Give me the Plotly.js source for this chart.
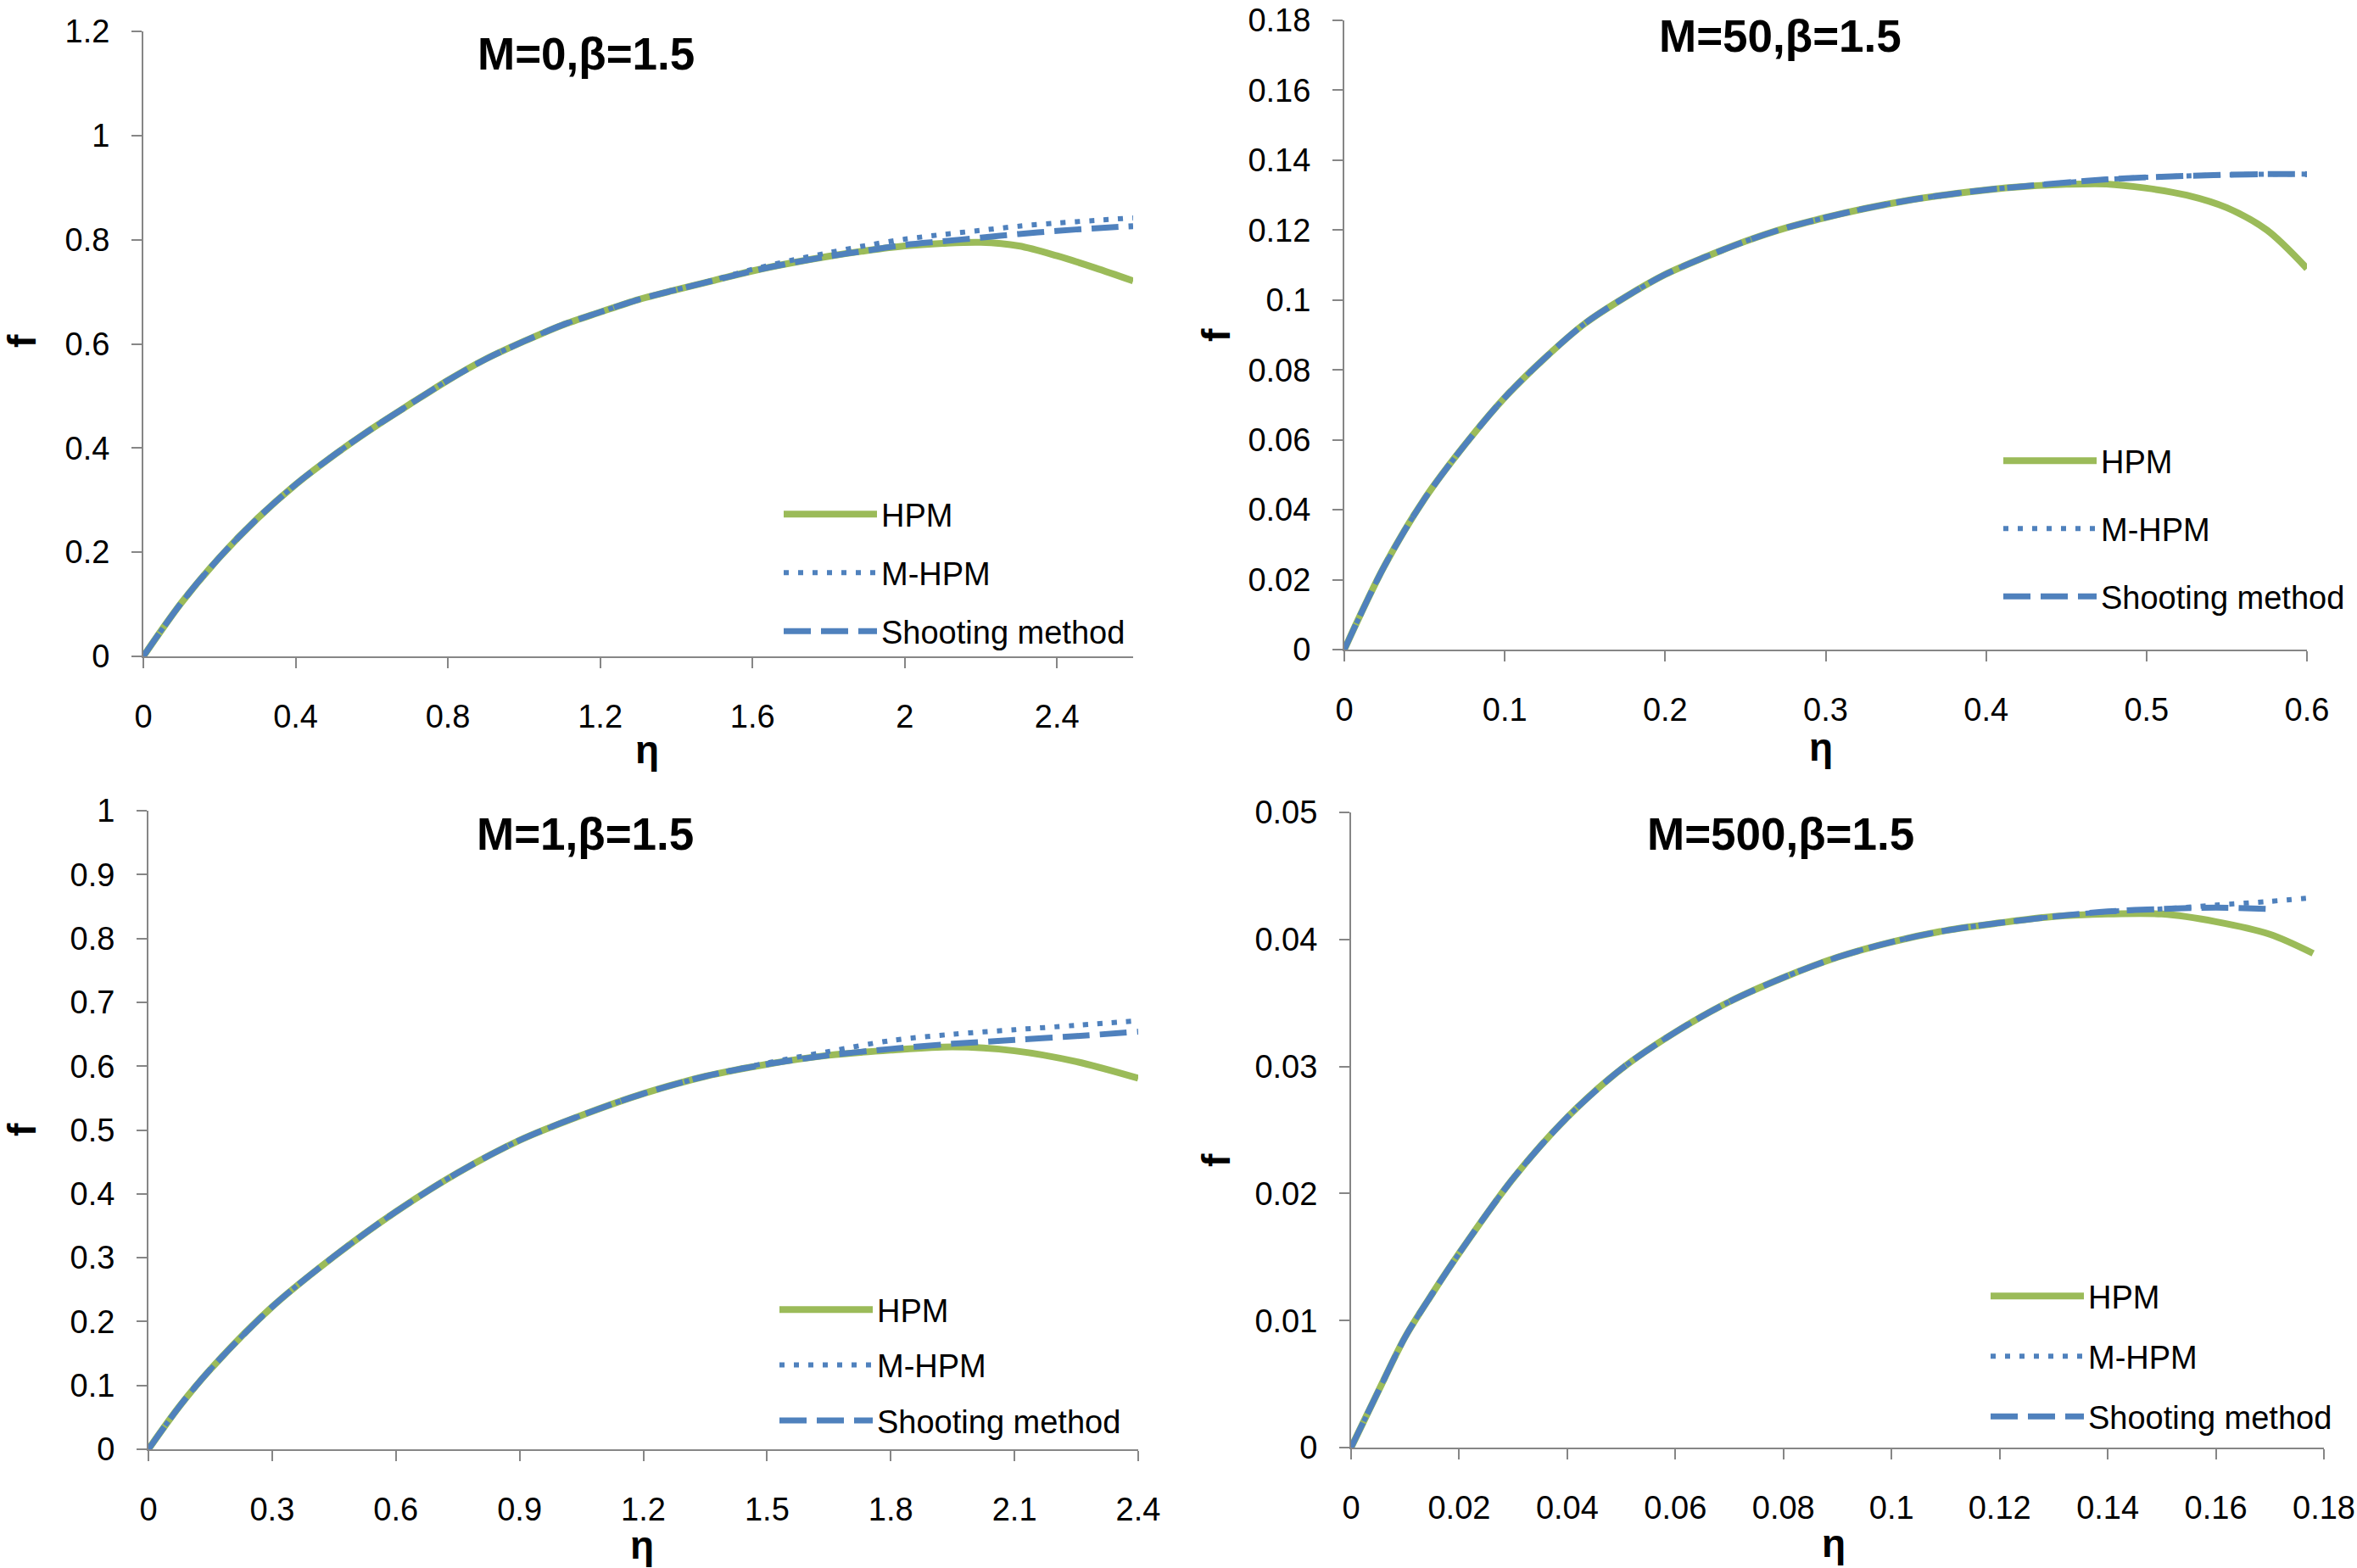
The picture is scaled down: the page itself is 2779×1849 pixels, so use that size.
<!DOCTYPE html>
<html>
<head>
<meta charset="utf-8">
<script src="https://cdn.plot.ly/plotly-3.0.1.min.js"></script>
<style>html,body{margin:0;padding:0;background:#fff;}#chart{width:2779px;height:1849px;}</style>
</head>
<body>
<div id="chart"></div>
<script>
// ---------- DATA ----------
// Panel M=0
const eta_M0 = [0,0.1,0.2,0.3,0.4,0.5,0.6,0.7,0.8,0.9,1.0,1.1,1.2,1.3,1.4,1.5,1.6,1.7,1.8,1.9,2.0,2.1,2.2,2.3,2.4,2.5,2.6];
const hpm_M0   = [0,0.103,0.190,0.265,0.330,0.386,0.437,0.484,0.530,0.571,0.605,0.636,0.661,0.685,0.704,0.722,0.740,0.755,0.768,0.779,0.788,0.793,0.795,0.788,0.769,0.746,0.721];
const mhpm_M0  = [0,0.103,0.190,0.265,0.330,0.386,0.437,0.484,0.530,0.571,0.605,0.636,0.661,0.685,0.704,0.723,0.743,0.760,0.775,0.789,0.801,0.810,0.818,0.826,0.832,0.837,0.842];
const shoot_M0 = [0,0.103,0.190,0.265,0.330,0.386,0.437,0.484,0.530,0.571,0.605,0.636,0.661,0.685,0.704,0.722,0.740,0.755,0.768,0.779,0.790,0.797,0.804,0.811,0.817,0.822,0.826];

// Panel M=50
const eta_M50 = [0,0.025,0.05,0.075,0.1,0.125,0.15,0.175,0.2,0.225,0.25,0.275,0.3,0.325,0.35,0.375,0.4,0.425,0.45,0.475,0.5,0.525,0.55,0.575,0.6];
const hpm_M50   = [0,0.0239,0.0431,0.0585,0.0721,0.0834,0.0933,0.1008,0.1073,0.1123,0.1168,0.1206,0.1236,0.1262,0.1284,0.1301,0.1315,0.1325,0.1331,0.1332,0.1320,0.1300,0.1264,0.1200,0.1090];
const mhpm_M50  = [0,0.0239,0.0431,0.0585,0.0721,0.0834,0.0933,0.1008,0.1073,0.1123,0.1168,0.1206,0.1236,0.1262,0.1284,0.1301,0.1315,0.1326,0.1336,0.1345,0.1351,0.1355,0.1358,0.1360,0.1360];
const shoot_M50 = [0,0.0239,0.0431,0.0585,0.0721,0.0834,0.0933,0.1008,0.1073,0.1123,0.1168,0.1206,0.1236,0.1262,0.1284,0.1301,0.1315,0.1326,0.1336,0.1345,0.1351,0.1355,0.1358,0.1360,0.1360];

// Panel M=1
const eta_M1 = [0,0.075,0.15,0.3,0.45,0.6,0.75,0.9,1.05,1.2,1.35,1.5,1.65,1.8,1.95,2.1,2.25,2.4];
const hpm_M1   = [0,0.067,0.125,0.223,0.302,0.372,0.433,0.484,0.523,0.557,0.584,0.603,0.617,0.625,0.630,0.624,0.607,0.581];
const mhpm_M1  = [0,0.067,0.125,0.223,0.302,0.372,0.433,0.484,0.523,0.557,0.584,0.605,0.623,0.640,0.650,0.657,0.664,0.671];
const shoot_M1 = [0,0.067,0.125,0.223,0.302,0.372,0.433,0.484,0.523,0.557,0.584,0.603,0.617,0.627,0.635,0.641,0.647,0.654];

// Panel M=500
const eta_M500 = [0,0.005,0.01,0.015,0.02,0.03,0.04,0.05,0.06,0.07,0.08,0.09,0.1,0.11,0.12,0.13,0.14,0.15,0.16,0.17,0.178];
const hpm_M500   = [0,0.0044,0.0087,0.0121,0.0153,0.0212,0.0260,0.0298,0.0327,0.0351,0.0370,0.0386,0.0398,0.0407,0.0413,0.0418,0.0420,0.0420,0.0414,0.0404,0.0389];
const mhpm_M500  = [0,0.0044,0.0087,0.0121,0.0153,0.0212,0.0260,0.0298,0.0327,0.0351,0.0370,0.0386,0.0398,0.0407,0.0413,0.0418,0.0422,0.0424,0.0427,0.0430,0.0433];
const eta_M500_shoot = [0,0.005,0.01,0.015,0.02,0.03,0.04,0.05,0.06,0.07,0.08,0.09,0.1,0.11,0.12,0.13,0.14,0.15,0.16,0.17];
const shoot_M500 = [0,0.0044,0.0087,0.0121,0.0153,0.0212,0.0260,0.0298,0.0327,0.0351,0.0370,0.0386,0.0398,0.0407,0.0413,0.0418,0.0422,0.0424,0.0425,0.0424];

const panelTitles = ['M=0,\u03b2=1.5','M=50,\u03b2=1.5','M=1,\u03b2=1.5','M=500,\u03b2=1.5'];
const seriesNames = ['HPM','M-HPM','Shooting method'];
const xTitle = '\u03b7';
const yTitle = 'f';

// ---------- STYLE ----------
const W = 2779, H = 1849;
const fx = v => v / W;
const fy = v => 1 - v / H;
const FONT = 'Liberation Sans, Arial, sans-serif';
const GREEN = '#9BBB59', BLUE = '#4F81BD', AXIS = '#868686';

const panels = [
  {xs:[eta_M0,eta_M0,eta_M0], ys:[hpm_M0,mhpm_M0,shoot_M0], xr:[0,2.6], xd:0.4, yr:[0,1.2000001], yd:0.2,
   dom:{x:[169,1336], y:[37,774]}, title:[691,63], ft:[26,402], et:[763,884], leg:{x:919, top:575, gap:16.6}},
  {xs:[eta_M50,eta_M50,eta_M50], ys:[hpm_M50,mhpm_M50,shoot_M50], xr:[0,0.6000001], xd:0.1, yr:[0,0.1800001], yd:0.02,
   dom:{x:[1585,2720], y:[24,766]}, title:[2099,42], ft:[1434,395], et:[2147,881], leg:{x:2357, top:512, gap:27.6}},
  {xs:[eta_M1,eta_M1,eta_M1], ys:[hpm_M1,mhpm_M1,shoot_M1], xr:[0,2.4000001], xd:0.3, yr:[0,1.0000001], yd:0.1,
   dom:{x:[175,1342], y:[956,1709]}, title:[690,983], ft:[26,1332], et:[757,1822], leg:{x:914, top:1513, gap:13}},
  {xs:[eta_M500,eta_M500,eta_M500_shoot], ys:[hpm_M500,mhpm_M500,shoot_M500], xr:[0,0.1800001], xd:0.02, yr:[0,0.0500001], yd:0.01,
   dom:{x:[1593,2740], y:[958,1707]}, title:[2099,983], ft:[1434,1368], et:[2162,1820], leg:{x:2342, top:1497, gap:18.6}}
];

const lineStyles = [
  {color:GREEN, width:8, dash:'solid'},
  {color:BLUE, width:6, dash:'6px,11px'},
  {color:BLUE, width:7, dash:'32px,12px'}
];

const traces = [];
const layout = {
  width: W, height: H,
  margin: {l:0, r:0, t:0, b:0},
  paper_bgcolor: '#fff', plot_bgcolor: 'rgba(0,0,0,0)',
  font: {family: FONT, color: '#000'},
  showlegend: true,
  annotations: []
};

panels.forEach((p, i) => {
  const n = i + 1;
  const xa = 'xaxis' + (n === 1 ? '' : n), ya = 'yaxis' + (n === 1 ? '' : n);
  const xref = 'x' + (n === 1 ? '' : n), yref = 'y' + (n === 1 ? '' : n);
  const legName = 'legend' + (n === 1 ? '' : n);
  for (let s = 0; s < 3; s++) {
    traces.push({
      type: 'scatter', mode: 'lines',
      x: p.xs[s], y: p.ys[s],
      xaxis: xref, yaxis: yref,
      name: seriesNames[s],
      legend: legName,
      legendgroup: 'p' + n + 's' + s,
      line: Object.assign({shape:'spline', smoothing:0.9}, lineStyles[s]),
      hoverinfo: 'x+y+name'
    });
  }
  const common = {
    showline: true, linecolor: AXIS, linewidth: 2,
    ticks: 'outside', ticklen: 12, tickwidth: 2, tickcolor: AXIS,
    showgrid: false, zeroline: false, fixedrange: true,
    ticklabeloverflow: 'allow',
    tickfont: {size: 38, family: FONT, color: '#000'}
  };
  layout[xa] = Object.assign({}, common, {
    domain: [fx(p.dom.x[0]), fx(p.dom.x[1])],
    range: p.xr, tick0: 0, dtick: p.xd, anchor: yref,
    ticklabelstandoff: 24
  });
  layout[ya] = Object.assign({}, common, {
    domain: [fy(p.dom.y[1]), fy(p.dom.y[0])],
    range: p.yr, tick0: 0, dtick: p.yd, anchor: xref,
    ticklabelstandoff: 18
  });
  layout[legName] = {
    x: fx(p.leg.x), y: fy(p.leg.top), xanchor: 'left', yanchor: 'top',
    xref: 'paper', yref: 'paper',
    bgcolor: 'rgba(0,0,0,0)', borderwidth: 0,
    font: {size: 38, family: FONT, color: '#000'},
    itemwidth: 110, traceorder: 'grouped', tracegroupgap: p.leg.gap
  };
  layout.annotations.push(
    {text: panelTitles[i], xref:'paper', yref:'paper', x: fx(p.title[0]), y: fy(p.title[1]),
     xanchor:'center', yanchor:'middle', showarrow:false,
     font:{size:53, family:FONT, color:'#000', weight:'bold'}},
    {text: yTitle, xref:'paper', yref:'paper', x: fx(p.ft[0]), y: fy(p.ft[1]),
     xanchor:'center', yanchor:'middle', showarrow:false, textangle:-90,
     font:{size:46, family:FONT, color:'#000', weight:'bold'}},
    {text: xTitle, xref:'paper', yref:'paper', x: fx(p.et[0]), y: fy(p.et[1]),
     xanchor:'center', yanchor:'middle', showarrow:false,
     font:{size:46, family:FONT, color:'#000', weight:'bold'}}
  );
});

Plotly.newPlot('chart', traces, layout, {displayModeBar: false});
</script>
</body>
</html>
